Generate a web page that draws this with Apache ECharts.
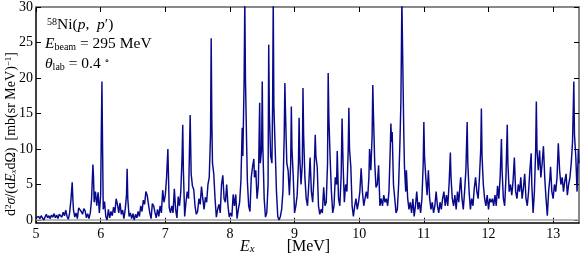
<!DOCTYPE html>
<html>
<head>
<meta charset="utf-8">
<script src="https://cdn.jsdelivr.net/npm/echarts@6/dist/echarts.min.js"></script>
<style>html,body{margin:0;padding:0;background:#fff}#c{width:580px;height:258px}</style>
</head>
<body>
<div id="c"></div>
<script>
// Energy E_x [MeV] and cross section [mb/(sr MeV)]
const spectrum = [
[5.00,0.3],[5.02,0.1],[5.04,0.5],[5.06,0.2],[5.08,0.6],[5.10,0.3],[5.12,0.0],[5.14,0.4],[5.16,0.8],[5.18,0.3],
[5.20,0.6],[5.22,0.2],[5.24,0.7],[5.26,0.4],[5.28,0.9],[5.30,0.3],[5.32,0.7],[5.34,0.2],[5.36,0.8],[5.38,1.0],
[5.40,0.4],[5.42,1.1],[5.44,0.6],[5.46,1.4],[5.48,0.5],[5.50,0.1],[5.52,1.0],[5.54,2.8],[5.56,5.3],[5.57,3.0],
[5.58,1.4],[5.60,0.4],[5.62,1.0],[5.64,0.2],[5.66,1.7],[5.68,1.5],[5.70,1.2],[5.72,0.8],[5.74,1.6],[5.76,1.3],
[5.78,0.3],[5.80,0.9],[5.82,0.2],[5.84,1.0],[5.86,3.0],[5.88,7.8],[5.89,6.0],[5.90,2.5],[5.92,4.0],[5.94,2.0],
[5.96,3.9],[5.98,1.0],[6.00,3.5],[6.01,12.0],[6.02,19.5],[6.03,10.0],[6.04,1.5],[6.06,2.6],[6.08,0.5],[6.10,0.0],
[6.12,1.5],[6.14,0.3],[6.16,1.2],[6.18,0.6],[6.20,1.8],[6.22,1.0],[6.24,3.0],[6.26,2.2],[6.28,1.0],[6.30,2.4],
[6.32,0.8],[6.34,1.4],[6.36,0.2],[6.38,1.5],[6.40,3.5],[6.41,7.2],[6.42,3.0],[6.44,0.5],[6.46,1.0],[6.48,0.2],
[6.50,0.9],[6.52,0.0],[6.54,0.8],[6.56,0.3],[6.58,1.2],[6.60,0.5],[6.62,2.0],[6.64,1.2],[6.66,2.8],[6.68,2.2],
[6.70,4.0],[6.72,3.5],[6.74,2.2],[6.76,1.0],[6.78,0.2],[6.80,2.3],[6.82,2.0],[6.84,1.1],[6.86,0.3],[6.88,1.5],
[6.90,0.5],[6.92,2.0],[6.94,1.0],[6.96,4.2],[6.98,2.5],[7.00,3.5],[7.02,6.0],[7.04,10.0],[7.05,6.0],[7.06,1.8],
[7.08,1.0],[7.10,2.0],[7.12,1.0],[7.14,4.4],[7.16,1.5],[7.18,0.3],[7.20,3.3],[7.22,2.0],[7.24,4.0],[7.26,9.0],
[7.27,13.4],[7.28,7.0],[7.30,0.5],[7.32,2.5],[7.34,4.0],[7.36,3.0],[7.37,8.0],[7.385,14.8],[7.40,6.5],[7.42,4.8],
[7.44,4.3],[7.46,2.0],[7.48,0.8],[7.50,1.2],[7.52,3.0],[7.54,2.2],[7.56,4.7],[7.58,3.0],[7.60,1.5],[7.62,3.2],
[7.64,2.5],[7.66,5.0],[7.68,6.0],[7.70,12.0],[7.71,25.6],[7.72,14.0],[7.73,8.0],[7.75,6.5],[7.77,3.0],[7.79,0.4],
[7.81,1.5],[7.83,2.2],[7.85,1.0],[7.87,5.0],[7.89,6.3],[7.91,3.0],[7.93,2.5],[7.95,5.0],[7.97,2.0],[7.99,0.4],
[8.01,1.0],[8.03,0.5],[8.05,3.6],[8.07,2.0],[8.09,3.6],[8.11,0.2],[8.13,1.5],[8.15,2.5],[8.17,5.5],[8.19,13.0],
[8.20,9.0],[8.22,20.0],[8.23,31],[8.24,20.0],[8.26,10.0],[8.27,5.5],[8.29,2.0],[8.31,1.2],[8.33,6.0],[8.35,7.5],
[8.37,8.6],[8.38,6.0],[8.40,7.0],[8.42,3.0],[8.44,5.0],[8.46,16.5],[8.47,8.0],[8.49,10.0],[8.50,19.5],[8.51,10.0],
[8.53,3.0],[8.55,0.4],[8.57,1.0],[8.59,5.0],[8.60,24.7],[8.61,15.0],[8.63,9.0],[8.65,8.0],[8.66,16.0],[8.67,31],
[8.68,16.0],[8.70,10.0],[8.72,4.0],[8.74,0.5],[8.76,0.0],[8.78,0.5],[8.80,1.5],[8.82,4.0],[8.84,12.0],[8.85,19.3],
[8.86,15.0],[8.88,8.0],[8.90,7.0],[8.92,3.5],[8.94,8.0],[8.95,16.0],[8.96,10.0],[8.98,6.0],[9.00,1.0],[9.02,2.0],
[9.04,3.5],[9.06,8.0],[9.07,14.4],[9.08,9.0],[9.10,5.0],[9.12,8.0],[9.13,18.6],[9.14,12.0],[9.16,6.0],[9.18,3.0],
[9.20,2.0],[9.22,5.0],[9.24,8.8],[9.26,4.0],[9.28,2.5],[9.30,6.0],[9.32,12.0],[9.33,9.0],[9.35,7.5],[9.37,2.0],
[9.39,0.8],[9.41,1.5],[9.43,1.0],[9.45,4.6],[9.47,2.0],[9.49,2.5],[9.51,8.0],[9.52,20.7],[9.53,14.6],[9.55,8.8],
[9.57,4.0],[9.59,1.0],[9.61,2.0],[9.63,6.0],[9.65,5.0],[9.66,9.7],[9.68,3.0],[9.70,2.0],[9.72,6.0],[9.735,14.3],
[9.75,8.0],[9.77,2.5],[9.79,5.0],[9.81,4.0],[9.83,10.0],[9.84,15.8],[9.85,10.0],[9.87,7.5],[9.89,2.0],[9.91,0.5],
[9.93,2.0],[9.95,3.0],[9.97,1.5],[9.99,2.5],[10.01,4.0],[10.03,7.3],[10.05,4.0],[10.07,2.0],[10.09,3.0],[10.11,4.0],
[10.13,3.0],[10.15,6.0],[10.16,10.0],[10.18,7.0],[10.20,12.0],[10.21,19.0],[10.22,15.0],[10.24,8.0],[10.26,4.6],[10.28,5.0],
[10.30,7.7],[10.32,2.0],[10.34,3.0],[10.36,2.0],[10.38,3.5],[10.40,2.5],[10.42,3.0],[10.44,2.0],[10.46,4.0],[10.48,10.0],
[10.49,13.6],[10.50,11.0],[10.51,12.4],[10.53,5.0],[10.55,3.0],[10.57,1.0],[10.59,1.5],[10.61,5.0],[10.63,11.0],[10.645,16.7],
[10.66,31],[10.675,31],[10.69,12.0],[10.70,7.5],[10.72,4.0],[10.73,7.0],[10.75,3.0],[10.77,1.5],[10.79,2.5],[10.81,1.0],
[10.83,3.0],[10.85,0.5],[10.87,2.0],[10.89,4.0],[10.91,1.5],[10.93,2.5],[10.95,1.0],[10.97,3.0],[10.99,8.0],[11.00,13.8],
[11.01,9.0],[11.03,6.0],[11.05,3.5],[11.07,7.0],[11.09,3.0],[11.11,1.5],[11.13,2.5],[11.15,1.0],[11.17,2.0],[11.19,4.0],
[11.21,2.0],[11.23,1.0],[11.25,2.5],[11.27,1.5],[11.29,3.0],[11.31,4.0],[11.33,2.0],[11.35,3.5],[11.37,2.0],[11.39,5.0],
[11.41,9.5],[11.42,6.0],[11.44,3.0],[11.46,2.0],[11.48,3.5],[11.50,1.5],[11.52,4.0],[11.54,2.5],[11.56,5.0],[11.57,6.0],
[11.59,3.0],[11.61,1.5],[11.63,4.0],[11.65,7.0],[11.67,13.8],[11.68,8.0],[11.70,4.0],[11.72,1.5],[11.74,3.0],[11.76,2.0],
[11.78,4.5],[11.80,6.0],[11.82,4.0],[11.84,3.0],[11.86,6.0],[11.88,10.0],[11.89,15.7],[11.90,9.0],[11.92,5.0],[11.94,3.0],
[11.96,2.0],[11.98,3.5],[12.00,1.5],[12.02,3.0],[12.04,2.5],[12.06,3.0],[12.08,2.0],[12.10,3.5],[12.12,2.0],[12.14,4.8],
[12.16,3.0],[12.18,6.0],[12.20,11.4],[12.21,7.0],[12.23,3.0],[12.25,2.0],[12.27,6.0],[12.29,13.4],[12.30,8.0],[12.32,4.0],
[12.34,5.0],[12.36,3.5],[12.38,5.5],[12.40,8.8],[12.42,4.0],[12.44,3.0],[12.46,5.0],[12.48,4.0],[12.50,6.0],[12.52,3.0],
[12.54,4.5],[12.56,6.5],[12.58,3.0],[12.60,2.0],[12.62,4.0],[12.64,7.0],[12.66,9.4],[12.67,5.0],[12.69,1.0],[12.71,4.0],
[12.73,10.0],[12.74,16.7],[12.75,10.0],[12.77,7.0],[12.79,9.8],[12.81,6.0],[12.83,8.0],[12.85,10.4],[12.87,6.0],[12.89,3.0],
[12.91,0.6],[12.93,4.0],[12.95,6.0],[12.96,7.5],[12.98,4.0],[13.00,3.0],[13.02,5.0],[13.04,4.0],[13.06,6.0],[13.08,10.8],
[13.10,7.0],[13.12,5.0],[13.14,6.0],[13.16,4.0],[13.18,5.5],[13.20,6.5],[13.22,3.5],[13.24,5.0],[13.26,6.0],[13.28,8.0],
[13.30,11.0],[13.32,19.5],[13.33,12.0],[13.35,9.0],[13.37,4.0],[13.39,10.0],[13.40,8.0]
];
const xTicks = [5,6,7,8,9,10,11,12,13];
const yTicks = [0,5,10,15,20,25,30];

const serif = '"Liberation Serif", "DejaVu Serif", serif';
const chart = echarts.init(document.getElementById('c'), null, {renderer: 'canvas'});
const grid = {left: 36, right: 1, top: 5, bottom: 35.3};
function richSet(fs) {
  const s = Math.round(fs * 0.66);
  return {
    n: {fontFamily: serif, fontSize: fs, color: '#000'},
    i: {fontFamily: serif, fontSize: fs, fontStyle: 'italic', color: '#000'},
    sup: {fontFamily: serif, fontSize: s, color: '#000', verticalAlign: 'top', lineHeight: fs},
    sub: {fontFamily: serif, fontSize: s, color: '#000', verticalAlign: 'bottom', lineHeight: fs - 2},
    subi: {fontFamily: serif, fontSize: s, fontStyle: 'italic', color: '#000', verticalAlign: 'bottom', lineHeight: fs - 2}
  };
}
const annRich = richSet(15.5);
const xRich = richSet(16);
const yRich = richSet(14);
chart.setOption({
  animation: false,
  grid: grid,
  xAxis: [{
    type: 'value', min: 5, max: 13.4, interval: 1, position: 'bottom',
    axisLine: {show: true, onZero: false, lineStyle: {color: '#000', width: 1.5}},
    axisTick: {show: true, inside: true, length: 5, lineStyle: {color: '#000'}, customValues: xTicks},
    axisLabel: {color: '#000', fontFamily: serif, fontSize: 14, margin: 5, customValues: xTicks},
    splitLine: {show: false}
  }, {
    type: 'value', min: 5, max: 13.4, position: 'top',
    axisLine: {show: true, onZero: false, lineStyle: {color: '#888', width: 2}},
    axisTick: {show: true, inside: true, length: 5, lineStyle: {color: '#000'}, customValues: xTicks},
    axisLabel: {show: false},
    splitLine: {show: false}
  }],
  yAxis: [{
    type: 'value', min: -0.38, max: 30, position: 'left',
    axisLine: {show: true, onZero: false, lineStyle: {color: '#000', width: 1.5}},
    axisTick: {show: true, inside: true, length: 5, lineStyle: {color: '#000'}, customValues: yTicks},
    axisLabel: {color: '#000', fontFamily: serif, fontSize: 14, margin: 3, customValues: yTicks},
    splitLine: {show: false}
  }, {
    type: 'value', min: -0.38, max: 30, position: 'right',
    axisLine: {show: true, onZero: false, lineStyle: {color: '#888', width: 2}},
    axisTick: {show: true, inside: true, length: 5, lineStyle: {color: '#000'}, customValues: yTicks},
    axisLabel: {show: false},
    splitLine: {show: false}
  }],
  series: [{
    type: 'line',
    data: spectrum,
    xAxisIndex: 0, yAxisIndex: 0,
    showSymbol: false, symbol: 'none',
    clip: true,
    lineStyle: {color: '#08088a', width: 1.45},
    markLine: {
      silent: true, symbol: 'none', label: {show: false},
      lineStyle: {color: '#a0a0a0', width: 1.5, type: 'solid'},
      data: [{yAxis: 0}], z: 1
    }
  }],
  graphic: [
    {type: 'text', x: 47, y: 25, style: {text: '{sup|58}{n|Ni(}{i|p}{n|,  }{i|p}{n|′)}', rich: annRich, textVerticalAlign: 'middle'}},
    {type: 'text', x: 45, y: 44, style: {text: '{i|E}{sub|beam}{n| = 295 MeV}', rich: annRich, textVerticalAlign: 'middle'}},
    {type: 'text', x: 45, y: 64, style: {text: '{i|θ}{sub|lab}{n| = 0.4 }{sup|∘}', rich: annRich, textVerticalAlign: 'middle'}},
    {type: 'text', x: 240, y: 247, style: {text: '{i|E}{subi|x}{n|        [MeV]}', rich: xRich, textAlign: 'left', textVerticalAlign: 'middle'}},
    {type: 'text', x: 11, y: 134, rotation: Math.PI / 2,
      style: {text: '{n|d}{sup|2}{i|σ}{n|/(d}{i|E}{subi|x}{n|dΩ)  [mb(sr MeV)}{sup|−1}{n|]}', rich: yRich, textAlign: 'center', textVerticalAlign: 'middle'}}
  ]
});
</script>
</body>
</html>
